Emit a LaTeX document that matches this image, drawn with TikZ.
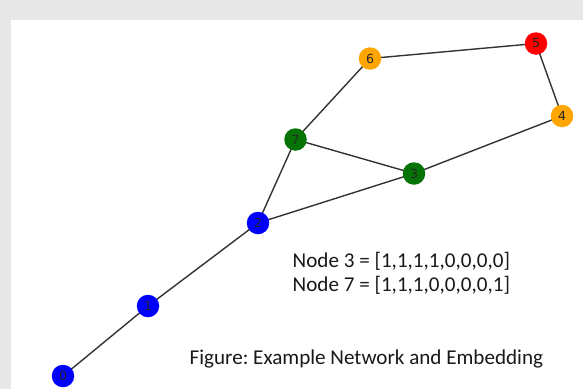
\documentclass[tikz,border=0pt]{standalone}
\usepackage{fontspec}
\setmainfont{Carlito}
\newfontfamily\labelfont{DejaVu Sans}
\frenchspacing
\definecolor{bggray}{HTML}{E8E8E8}
\definecolor{nblue}{HTML}{0000FF}
\definecolor{ngreen}{HTML}{067306}
\definecolor{norange}{HTML}{FFA500}
\definecolor{nred}{HTML}{FF0000}
\definecolor{edgegray}{HTML}{333333}
\begin{document}
\begin{tikzpicture}[x=1pt,y=-1pt,
  gnode/.style={circle,minimum size=22.5pt,inner sep=0pt,font=\labelfont\fontsize{12.5}{13}\selectfont,text=black!85},
  gedge/.style={draw=edgegray,line width=1.4pt},
  caption/.style={anchor=base west,inner sep=0pt,font=\fontsize{21.1}{25}\selectfont,text=black!90}]
\useasboundingbox (0,0) rectangle (583,389);
\fill[bggray] (0,0) rectangle (583,389);
\fill[white] (11,20) rectangle (583,389);
\coordinate (p0) at (63,376);
\coordinate (p1) at (148,306);
\coordinate (p2) at (258,223);
\coordinate (p7) at (295.5,139.5);
\coordinate (p3) at (414,173.5);
\coordinate (p4) at (562,116);
\coordinate (p5) at (536,43.5);
\coordinate (p6) at (370,58.5);
\draw[gedge] (p0) -- (p1) -- (p2) -- (p7) -- (p6) -- (p5) -- (p4) -- (p3) -- (p2);
\draw[gedge] (p7) -- (p3);
\node[gnode,fill=nblue] (n0) at (p0) {0};
\node[gnode,fill=nblue] (n1) at (p1) {1};
\node[gnode,fill=nblue] (n2) at (p2) {2};
\node[gnode,fill=ngreen] (n7) at (p7) {7};
\node[gnode,fill=ngreen] (n3) at (p3) {3};
\node[gnode,fill=norange] (n4) at (p4) {4};
\node[gnode,fill=nred] (n5) at (p5) {5};
\node[gnode,fill=norange] (n6) at (p6) {6};
\node[caption] (t1) at (292.5,267.5) {Node 3 = [1,1,1,1,0,0,0,0]};
\node[caption] (t2) at (292.5,291.3) {Node 7 = [1,1,1,0,0,0,0,1]};
\node[caption] (t3) at (189.5,364.5) {Figure: Example Network and Embedding};
\end{tikzpicture}
\end{document}
